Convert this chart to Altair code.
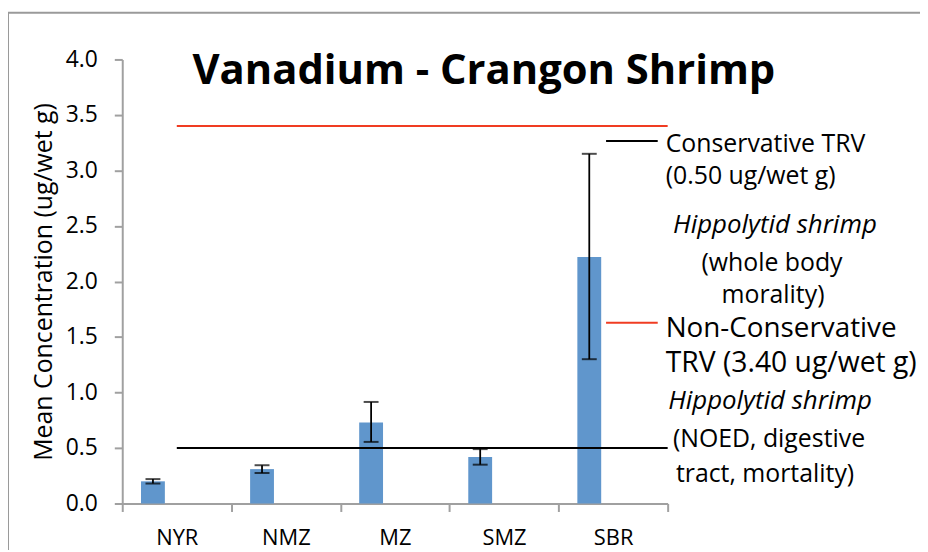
import altair as alt
import pandas as pd

sites = ["NYR", "NMZ", "MZ", "SMZ", "SBR"]
means = [0.20, 0.31, 0.73, 0.42, 2.22]
err_lo = [0.18, 0.275, 0.555, 0.35, 1.30]
err_hi = [0.22, 0.345, 0.915, 0.49, 3.15]

trv_values = [0.50, 3.40]
trv_colors = ["#000000", "#f03c22"]

y_ticks = [0.0, 0.5, 1.0, 1.5, 2.0, 2.5, 3.0, 3.5, 4.0]

FONT = "Open Sans"
BAR_COLOR = "#6096cc"
RED = "#f03c22"
GRAY = "#a0a0a0"

df = pd.DataFrame({"site": sites, "mean": means, "lo": err_lo, "hi": err_hi})
trv = pd.DataFrame({"value": trv_values, "color": trv_colors})
one = pd.DataFrame({"k": [0]})

W, H = 549, 447

xenc = alt.X("site:N", sort=sites,
             scale=alt.Scale(domain=sites, paddingInner=0, paddingOuter=0),
             axis=alt.Axis(title=None, labelAngle=0, tickBand="extent",
                           labelFontSize=22, labelPadding=16))
yscale = alt.Scale(domain=[0, 4], nice=False)
yaxis = alt.Axis(title="Mean Concentration (ug/wet g)", values=y_ticks, format=".1f",
                 grid=False, labelFontSize=23, titleFontSize=25, titleFontWeight="normal",
                 labelPadding=17, titlePadding=9)

base = alt.Chart(df)

bars = base.mark_bar(width=24, xOffset=-24, color=BAR_COLOR).encode(
    x=xenc,
    y=alt.Y("mean:Q", scale=yscale, axis=yaxis),
)

err_line = base.mark_rule(xOffset=-24, color="black", strokeWidth=1.8).encode(
    x=alt.X("site:N", sort=sites),
    y="lo:Q",
    y2="hi:Q",
)
cap_lo = base.mark_tick(xOffset=-24, color="black", orient="horizontal", size=15, thickness=2).encode(
    x=alt.X("site:N", sort=sites),
    y="lo:Q",
)
cap_hi = base.mark_tick(xOffset=-24, color="black", orient="horizontal", size=15, thickness=2).encode(
    x=alt.X("site:N", sort=sites),
    y="hi:Q",
)

trv_rules = alt.Chart(trv).mark_rule(strokeWidth=2).encode(
    x=alt.XDatum("NYR"),
    x2=alt.value(W),
    y="value:Q",
    color=alt.Color("color:N", scale=None, legend=None),
)

# Frame around the chart (Excel chart border)
frame_left = alt.Chart(one).mark_rule(color="#9a9a9a", strokeWidth=2).encode(
    x=alt.value(-115), y=alt.value(-47), y2=alt.value(505))
frame_top = alt.Chart(one).mark_rule(color="#9a9a9a", strokeWidth=2).encode(
    x=alt.value(-115), x2=alt.value(820), y=alt.value(-47))

# Title
title = alt.Chart(one).mark_text(text="Vanadium - Crangon Shrimp", align="center",
                                 baseline="alphabetic", fontSize=42, fontWeight="bold",
                                 font=FONT, color="black").encode(
    x=alt.value(364), y=alt.value(25))

# Legend-like annotation
leg_black = alt.Chart(one).mark_rule(color="black", strokeWidth=2).encode(
    x=alt.value(487), x2=alt.value(539), y=alt.value(82))
leg_red = alt.Chart(one).mark_rule(color=RED, strokeWidth=2).encode(
    x=alt.value(487), x2=alt.value(539), y=alt.value(265))

ann_left = [
    ("Conservative TRV", 93, 25),
    ("(0.50 ug/wet g)", 125, 25),
    ("Non-Conservative", 279, 28),
    ("TRV (3.40 ug/wet g)", 315, 28.5),
]
ann_center = [
    ("Hippolytid  shrimp", 657, 175, True),
    ("(whole body", 654, 213, False),
    ("morality)", 655, 245, False),
    ("Hippolytid  shrimp", 652, 352, True),
    ("(NOED, digestive", 651, 390, False),
    ("tract, mortality)", 647, 425, False),
]

texts = []
for t, yy, fs in ann_left:
    texts.append(alt.Chart(one).mark_text(text=t, align="left", baseline="alphabetic",
                                          fontSize=fs, font=FONT, fontWeight="normal",
                                          color="black").encode(
        x=alt.value(547), y=alt.value(yy)))
for t, xx, yy, it in ann_center:
    texts.append(alt.Chart(one).mark_text(text=t, align="center", baseline="alphabetic",
                                          fontSize=26 if it else 25, font=FONT,
                                          fontWeight="normal", color="black",
                                          fontStyle="italic" if it else "normal").encode(
        x=alt.value(xx), y=alt.value(yy)))

chart = alt.layer(
    frame_left, frame_top, bars, trv_rules, err_line, cap_lo, cap_hi,
    title, leg_black, leg_red, *texts
).properties(
    width=W, height=H,
    autosize=alt.AutoSizeParams(type="none"),
    padding={"left": 115, "top": 50, "right": 254, "bottom": 45},
).configure_view(stroke=None).configure_axis(
    domainColor=GRAY, domainWidth=2, tickColor=GRAY, tickWidth=2, tickSize=8,
    labelColor="black", titleColor="black", labelFont=FONT, titleFont=FONT,
)

chart.save("out.html", embed_options={"renderer": "svg", "actions": False})
